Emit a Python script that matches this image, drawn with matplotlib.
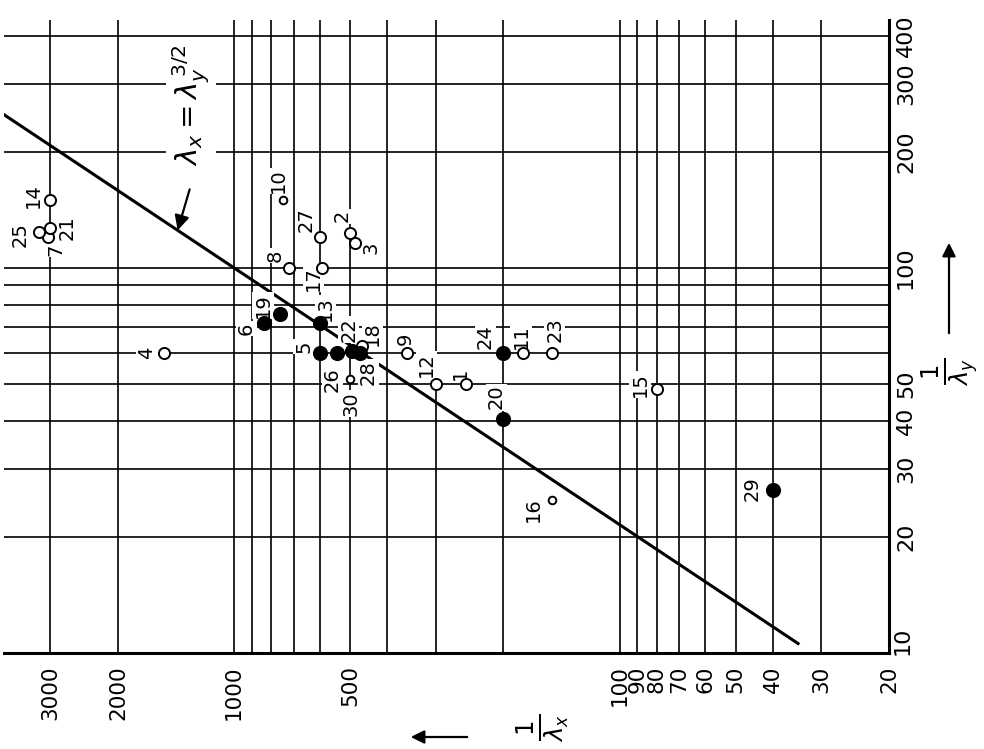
import numpy as np
import matplotlib
matplotlib.use("Agg")
import matplotlib.pyplot as plt
from matplotlib.ticker import NullLocator

plt.rcParams['font.family'] = ['DejaVu Sans']
plt.rcParams['mathtext.fontset'] = 'dejavusans'

# Axis values: 1/lambda_x (horizontal, decreasing to the right), 1/lambda_y (vertical)
x_ticks = [3000, 2000, 1000, 500, 100, 90, 80, 70, 60, 50, 40, 30, 20]
y_ticks = [20, 30, 40, 50, 100, 200, 300, 400]
x_grid = [3000, 2000, 1000, 900, 800, 700, 600, 500, 400, 300, 200,
          100, 90, 80, 70, 60, 50, 40, 30]
y_grid = [20, 30, 40, 50, 60, 70, 80, 90, 100, 200, 300, 400]

# Specimens: number, 1/lambda_x, 1/lambda_y, filled symbol
point_ids = [1, 2, 3, 4, 5, 6, 7, 8, 9, 10, 11, 12, 13, 14, 15,
             16, 17, 18, 19, 20, 21, 22, 23, 24, 25, 26, 27, 28, 29, 30]
inv_lx = [250, 500, 485, 1520, 600, 835, 3030, 720, 355, 745, 178, 300, 600, 3000, 80,
          150, 590, 465, 760, 200, 3000, 495, 150, 200, 3200, 540, 600, 470, 40, 500]
inv_ly = [50, 123, 116, 60, 60, 72, 120, 100, 60, 150, 60, 50, 72, 150, 48.5,
          25, 100, 62.5, 76, 40.5, 127, 61, 60, 60, 124, 60, 120, 60, 26.5, 51.5]
filled = [0, 0, 0, 0, 1, 1, 0, 0, 0, 0, 0, 0, 1, 0, 0,
          0, 0, 0, 1, 1, 0, 1, 0, 1, 0, 1, 0, 1, 1, 0]
small = [0, 0, 0, 0, 0, 0, 0, 0, 0, 1, 0, 0, 0, 0, 0,
         1, 0, 0, 0, 0, 0, 0, 0, 0, 0, 0, 0, 0, 0, 1]

# label placement relative to each symbol (pixels)
label_offsets = [(-6, 10), (-8, 17), (16, -5), (-17, 0), (-16, 7), (-18, -6), (7, -12),
                 (-14, 12), (-2, 14), (-5, 19), (-2, 17), (-9, 19), (6, 14), (-17, 4),
                 (-17, 4), (-18, -10), (-9, -11), (10, 13), (-17, 8), (-7, 22), (17, 0),
                 (-3, 21), (3, 24), (-18, 17), (-19, -3), (-5, -26), (-13, 18), (8, -19),
                 (-21, 1), (1, -25)]

# reference relation lambda_x = lambda_y^(3/2)
line_ly = np.array([10.53, 270.0])
line_lx = line_ly ** 1.5

W, H = 984, 749
fig = plt.figure(figsize=(W / 100, H / 100), dpi=100)
ax = fig.add_axes([4 / W, 1 - 653 / H, (889 - 4) / W, (653 - 20) / H])
ax.set_xscale('log')
ax.set_yscale('log')
ax.set_xlim(3950, 20)
ax.set_ylim(10, 440)
ax.xaxis.set_minor_locator(NullLocator())
ax.yaxis.set_minor_locator(NullLocator())

for s in ['top', 'left']:
    ax.spines[s].set_visible(False)
for s in ['right', 'bottom']:
    ax.spines[s].set_linewidth(2.2)

for v in x_grid:
    ax.axvline(v, color='black', lw=1.2, zorder=1)
for v in y_grid:
    ax.axhline(v, color='black', lw=1.2, zorder=1)

ax.plot(line_lx, line_ly, color='black', lw=2.2, zorder=3, solid_capstyle='butt')

ax.set_xticks(x_ticks)
ax.set_xticklabels([str(v) for v in x_ticks], rotation=90, fontsize=15.5)
ax.yaxis.tick_right()
ax.set_yticks(y_ticks)
ax.set_yticklabels([str(v) for v in y_ticks], rotation=90, fontsize=16, va='center')
ax.tick_params(axis='x', length=0, pad=9)
ax.tick_params(axis='y', length=0, pad=5)
ax.text(1.004, 0.02, '10', transform=ax.transAxes, rotation=90, fontsize=16,
        ha='left', va='center')

for pid, xv, yv, f, sm, off in zip(point_ids, inv_lx, inv_ly, filled, small, label_offsets):
    ms = 5.5 if sm else (9.5 if f else 8)
    ax.plot(xv, yv, 'o', ms=ms, mfc='black' if f else 'white', mec='black',
            mew=1.4, zorder=6, clip_on=False)
    ax.annotate(str(pid), (xv, yv), xytext=off, textcoords='offset pixels',
                rotation=90, ha='center', va='center', fontsize=14, zorder=4,
                bbox=dict(fc='white', ec='none', pad=0.8))

# equation label with pointer to the line
tip_x = 1400.0
tip_y = tip_x ** (2 / 3)
ax.annotate('', xy=(tip_x, tip_y), xytext=(12, 41), textcoords='offset pixels',
            arrowprops=dict(arrowstyle='-|>', color='black', lw=1.6,
                            mutation_scale=22, shrinkA=0, shrinkB=0), zorder=5)
ax.text(1290, 265, r'$\lambda_x = \lambda_y^{\,3/2}$', rotation=90, fontsize=21,
        ha='center', va='center', zorder=4,
        bbox=dict(fc='white', ec='none', pad=3))

# axis titles with direction arrows
fig.text(543 / W, 1 - 728 / H, r'$\frac{1}{\lambda_x}$', rotation=90, fontsize=25,
         ha='center', va='center')
fig.add_artist(matplotlib.patches.FancyArrowPatch(
    (470 / W, 1 - 737 / H), (408 / W, 1 - 737 / H), transform=fig.transFigure,
    arrowstyle='-|>', mutation_scale=20, lw=1.6, color='black'))
fig.text(950 / W, 1 - 372 / H, r'$\frac{1}{\lambda_y}$', rotation=90, fontsize=25,
         ha='center', va='center')
fig.add_artist(matplotlib.patches.FancyArrowPatch(
    (949 / W, 1 - 336 / H), (949 / W, 1 - 240 / H), transform=fig.transFigure,
    arrowstyle='-|>', mutation_scale=20, lw=1.6, color='black'))

fig.savefig('out.png', dpi=100, facecolor='white')
